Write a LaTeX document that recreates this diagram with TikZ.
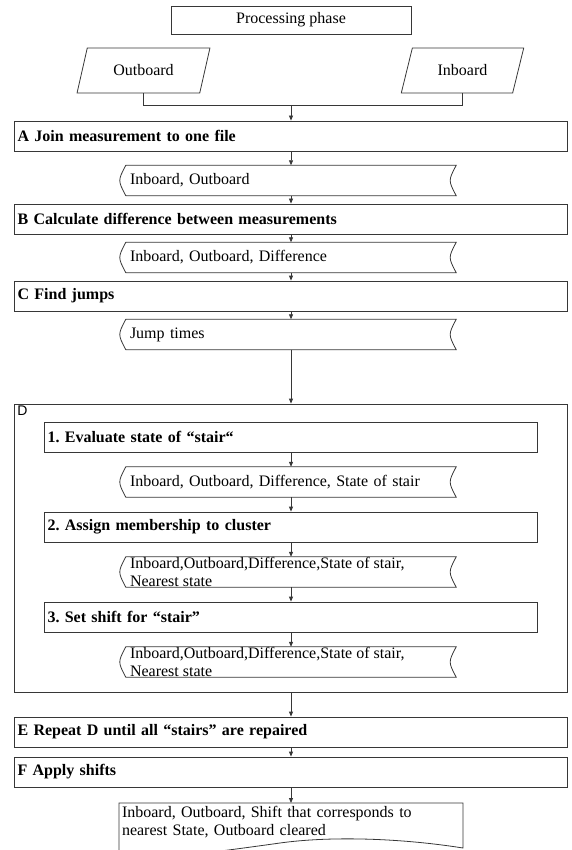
\documentclass[tikz,border=0pt]{standalone}
\usepackage{fontspec}
\setmainfont{Liberation Serif}
\newfontfamily\dlabelfont{Liberation Sans}
\usetikzlibrary{arrows.meta, shapes.geometric}
\definecolor{edgegray}{RGB}{55,55,55}
\frenchspacing

% stored data outline round a named node
\newcommand{\storeshape}[1]{%
  \draw[edgegray, line width=0.8pt] (#1.north west) -- (#1.north east)
    .. controls ([xshift=-8pt]#1.east) .. (#1.south east)
    -- (#1.south west)
    .. controls ([xshift=-8pt]#1.west) .. cycle;}

\begin{document}
\begin{tikzpicture}[x=1pt, y=-1pt,
  every node/.style={font=\fontsize{16}{18}\selectfont},
  flow/.style={edgegray, line width=0.8pt},
  arr/.style={flow, -{Triangle[length=5pt, width=4pt]}},
  phasebox/.style={draw=edgegray, line width=0.8pt, minimum width=240pt, minimum height=28pt, inner sep=0pt},
  inputbox/.style={draw=edgegray, line width=0.8pt, trapezium, trapezium left angle=64, trapezium right angle=116, trapezium stretches=true, minimum height=45pt, inner sep=0pt},
  stepbox/.style={draw=edgegray, line width=0.8pt, minimum width=553pt, minimum height=30pt, text width=547pt, inner xsep=3pt, inner ysep=0pt, align=left, font=\fontsize{16}{18}\selectfont\bfseries},
  substep/.style={stepbox, minimum width=493pt, text width=487pt},
  store/.style={minimum width=330pt, minimum height=30pt, text width=322pt, inner xsep=4pt, inner ysep=0pt, align=left},
  storetext/.style={anchor=west, inner sep=0pt, align=left}]
  \useasboundingbox (0,0) rectangle (571,850);
  \clip (0,0) rectangle (571,850);

  % Phase and the two inputs
  \node[phasebox] (phase) at (291,20) {Processing phase};
  \node[inputbox, minimum width=133pt] (outb) at (143.5,70.5) {Outboard};
  \node[inputbox, minimum width=123pt] (inb) at (462.5,70.5) {Inboard};
  \coordinate (join) at (291,105);
  \draw[flow] (outb.south) |- (join);
  \draw[flow] (inb.south) |- (join);

  % Steps A - C
  \node[stepbox] (stepA) at (291,136) {A Join measurement to one file};
  \node[store] (dataA) at (291,180.5) {Inboard, Outboard};
  \node[stepbox] (stepB) at (291,219) {B Calculate difference between measurements};
  \node[store] (dataB) at (291,257.5) {Inboard, Outboard, Difference};
  \node[stepbox] (stepC) at (291,296) {C Find jumps};
  \node[store] (dataC) at (291,334.5) {Jump times};

  % Step D with its sub steps
  \node[draw=edgegray, line width=0.8pt, minimum width=553pt, minimum height=288pt, inner sep=0pt] (stepD) at (291,548) {};
  \node[anchor=north west, inner sep=0pt, font=\dlabelfont\fontsize{14}{16}\selectfont] (dlabel) at ([xshift=3pt, yshift=-2pt]stepD.north west) {D};
  \node[substep] (subA) at (291,437) {1. Evaluate state of “stair“};
  \node[store] (subdataA) at (291,482) {Inboard, Outboard, Difference, State of stair};
  \node[substep] (subB) at (291,527) {2. Assign membership to cluster};
  \node[store] (subdataB) at (291,572) {};
  \node[storetext] (subtextB) at ([xshift=4pt]subdataB.west) {Inboard,Outboard,Difference,State of stair,\\Nearest state};
  \node[substep] (subC) at (291,617) {3. Set shift for “stair”};
  \node[store] (subdataC) at (291,662) {};
  \node[storetext] (subtextC) at ([xshift=4pt]subdataC.west) {Inboard,Outboard,Difference,State of stair,\\Nearest state};

  % Steps E, F and the result
  \node[stepbox] (stepE) at (291,732) {E Repeat D until all “stairs” are repaired};
  \node[stepbox] (stepF) at (291,772) {F Apply shifts};
  \node[anchor=north, minimum width=344pt, text width=338pt, inner xsep=3pt, inner ysep=3pt, align=left] (result) at (291,803) {Inboard, Outboard, Shift that corresponds to\\nearest State, Outboard cleared};
  % document outline, cut off by the page edge
  \draw[flow] (119,803) -- (463,803) -- (463,848) .. controls (400,838) and (330,836) .. (280,843) .. controls (230,850) and (170,858) .. (119,862) -- cycle;

  \foreach \s in {dataA, dataB, dataC, subdataA, subdataB, subdataC}
    \storeshape{\s};

  \foreach \a/\b in {join/stepA, stepA/dataA, dataA/stepB, stepB/dataB, dataB/stepC, stepC/dataC, dataC/stepD, subA/subdataA, subdataA/subB, subB/subdataB, subdataB/subC, subC/subdataC, stepD/stepE, stepE/stepF, stepF/result}
    \draw[arr] (\a) -- (\b);
\end{tikzpicture}
\end{document}
